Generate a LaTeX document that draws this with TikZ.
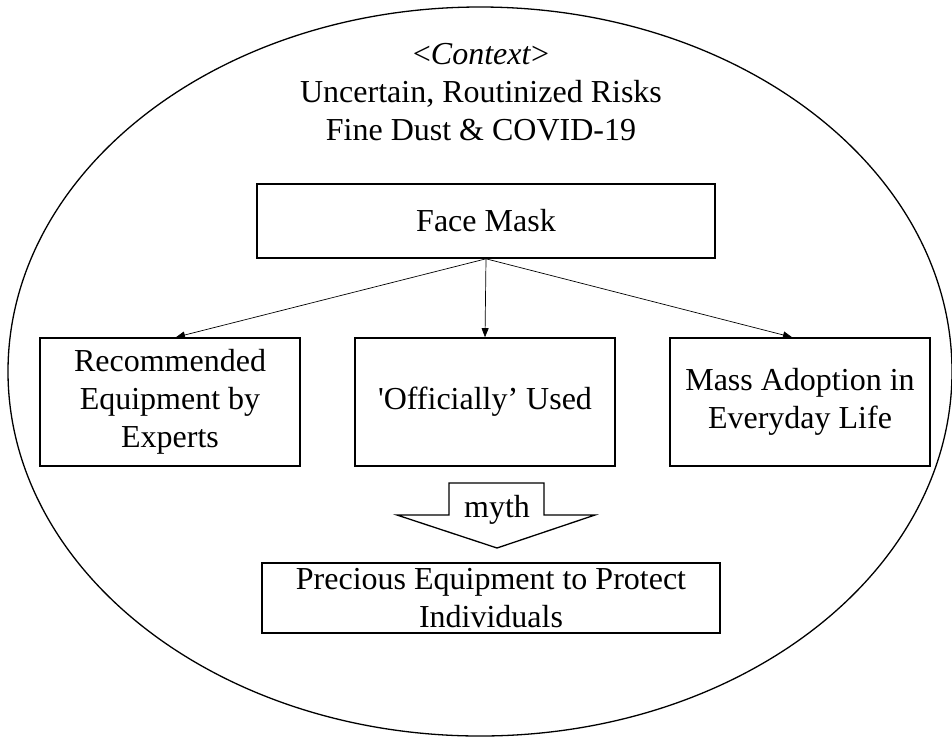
\documentclass[tikz,border=0pt]{standalone}
\usepackage{fontspec}
\setmainfont{Liberation Serif}
\usetikzlibrary{arrows.meta,positioning}

\tikzset{
  kotak/.style={draw,line width=1.6pt,align=center,inner sep=0pt},
  panah/.style={-{Triangle[length=9pt,width=7pt]},line width=0.7pt},
}

\begin{document}
\begin{tikzpicture}[x=1pt,y=-1pt,font=\fontsize{32}{38}\selectfont]
\useasboundingbox (0,0) rectangle (952,737);

% elips konteks
\draw[line width=1.3pt] (480,371.5) ellipse [x radius=472,y radius=364.5];

% teks konteks
\node[align=center] (konteks) at (481,92)
  {<\textit{Context}>\\ Uncertain, Routinized Risks\\ Fine Dust \& COVID-19};

% kotak-kotak
\node[kotak,minimum width=458,minimum height=74] (mask) at (486,221) {Face Mask};
\node[kotak,minimum width=260,minimum height=128] (ahli) at (170,402)
  {Recommended\\ Equipment by\\ Experts};
\node[kotak,minimum width=260,minimum height=128] (resmi) at (485,402)
  {\textquotesingle Officially’ Used};
\node[kotak,minimum width=260,minimum height=128] (massal) at (800,402)
  {Mass Adoption in\\ Everyday Life};
\node[kotak,minimum width=458,minimum height=70] (mitos) at (491,598)
  {Precious Equipment to Protect\\ Individuals};

% panah dari masker
\draw[panah] (mask.south) -- ([xshift=6pt]ahli.north);
\draw[panah] (mask.south) -- (resmi.north);
\draw[panah] (mask.south) -- ([xshift=-8pt]massal.north);

% panah besar myth
\draw[line width=1.3pt] (449,483) -- (544,483) -- (544,515) -- (595,515)
  -- (497,548) -- (397,515) -- (449,515) -- cycle;
\node (myth) at (497,510) {myth};

\end{tikzpicture}
\end{document}
